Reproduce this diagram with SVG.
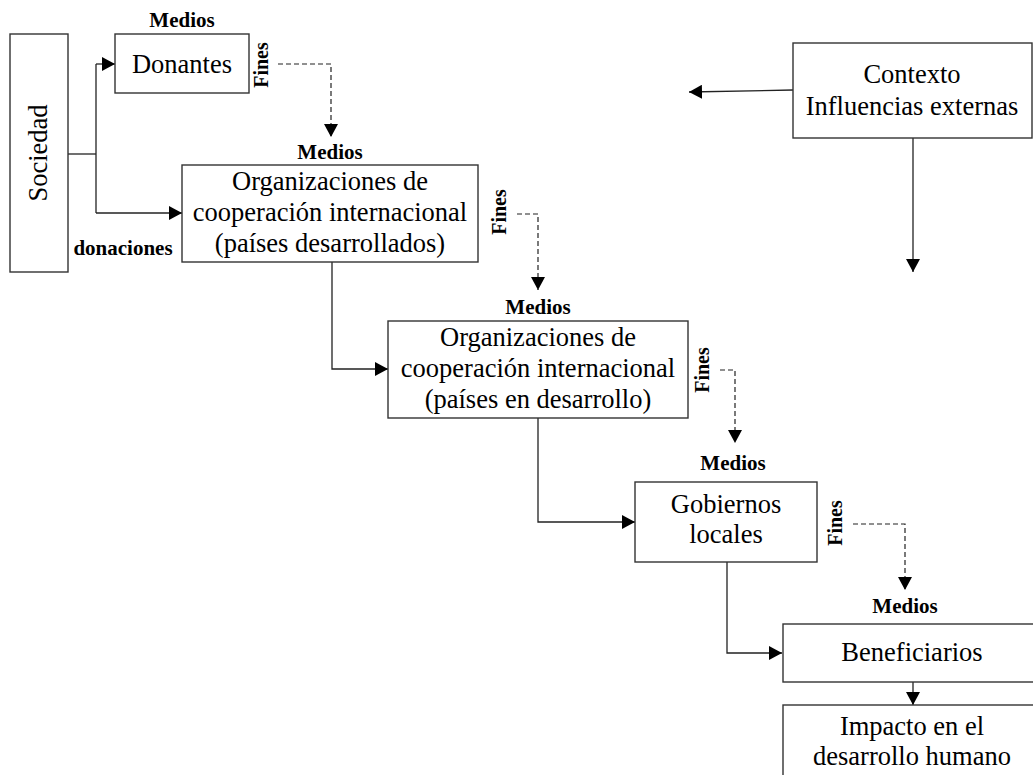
<svg xmlns="http://www.w3.org/2000/svg" width="1033" height="775" viewBox="0 0 1033 775">
  <defs>
    <marker id="arrow" markerUnits="userSpaceOnUse" markerWidth="14" markerHeight="14" refX="13" refY="7" orient="auto">
      <path d="M0,0 L13,7 L0,14 z" fill="#000"/>
    </marker>
    <style>
      text { font-family: 'Liberation Serif', 'Times New Roman', 'DejaVu Serif', serif; fill: #000; text-anchor: middle; }
      .box { fill: #fff; stroke: #333; stroke-width: 1.4; }
      .t { font-size: 26.5px; font-weight: normal; }
      .b { font-size: 21px; font-weight: bold; }
      .f { font-size: 20px; font-weight: bold; }
      .line { fill: none; stroke: #222; stroke-width: 1.3; }
      .dash { fill: none; stroke: #222; stroke-width: 1.2; stroke-dasharray: 5 3; }
    </style>
  </defs>
  <rect width="1033" height="775" fill="#fff"/>

  <!-- connectors -->
  <g id="connectors">
    <path class="line" d="M68,154 H96"/>
    <path class="line" d="M96,64 V213"/>
    <path class="line" d="M96,64 H115" marker-end="url(#arrow)"/>
    <path class="line" d="M96,213 H182" marker-end="url(#arrow)"/>
    <path class="dash" d="M278,64 H331 V137" marker-end="url(#arrow)"/>
    <path class="line" d="M332,262 V369 H388" marker-end="url(#arrow)"/>
    <path class="dash" d="M517,214 H538 V290" marker-end="url(#arrow)"/>
    <path class="line" d="M538,418 V522 H635" marker-end="url(#arrow)"/>
    <path class="dash" d="M720,370 H735 V443" marker-end="url(#arrow)"/>
    <path class="line" d="M727,562 V653 H782" marker-end="url(#arrow)"/>
    <path class="dash" d="M853,524 H905 V590" marker-end="url(#arrow)"/>
    <path class="line" d="M913,682 V705" marker-end="url(#arrow)"/>
    <path class="line" d="M793,90 L689,92" marker-end="url(#arrow)"/>
    <path class="line" d="M913,138 V272" marker-end="url(#arrow)"/>
  </g>

  <!-- Sociedad -->
  <g id="sociedad">
    <rect class="box" x="10" y="34" width="58" height="238"/>
    <text class="t" transform="translate(47,153) rotate(-90)">Sociedad</text>
    <text class="b" x="123" y="255">donaciones</text>
  </g>

  <!-- Donantes -->
  <g id="donantes">
    <text class="b" x="182" y="27">Medios</text>
    <rect class="box" x="115" y="34" width="134" height="59"/>
    <text class="t" x="182" y="73">Donantes</text>
    <text class="f" transform="translate(268,65) rotate(-90)">Fines</text>
  </g>

  <!-- Organizaciones (países desarrollados) -->
  <g id="org-desarrollados">
    <text class="b" x="330" y="159">Medios</text>
    <rect class="box" x="182" y="165" width="296" height="97"/>
    <text class="t" x="330" y="190">Organizaciones de</text>
    <text class="t" x="330" y="221">cooperación internacional</text>
    <text class="t" x="330" y="252">(países desarrollados)</text>
    <text class="f" transform="translate(506,212) rotate(-90)">Fines</text>
  </g>

  <!-- Organizaciones (países en desarrollo) -->
  <g id="org-en-desarrollo">
    <text class="b" x="538" y="314">Medios</text>
    <rect class="box" x="388" y="321" width="300" height="97"/>
    <text class="t" x="538" y="346">Organizaciones de</text>
    <text class="t" x="538" y="377">cooperación internacional</text>
    <text class="t" x="538" y="408">(países en desarrollo)</text>
    <text class="f" transform="translate(709,370) rotate(-90)">Fines</text>
  </g>

  <!-- Gobiernos locales -->
  <g id="gobiernos">
    <text class="b" x="733" y="470">Medios</text>
    <rect class="box" x="635" y="482" width="182" height="80"/>
    <text class="t" x="726" y="513">Gobiernos</text>
    <text class="t" x="726" y="543">locales</text>
    <text class="f" transform="translate(842,523) rotate(-90)">Fines</text>
  </g>

  <!-- Beneficiarios -->
  <g id="beneficiarios">
    <text class="b" x="905" y="613">Medios</text>
    <rect class="box" x="783" y="624" width="262" height="58"/>
    <text class="t" x="912" y="661">Beneficiarios</text>
  </g>

  <!-- Impacto -->
  <g id="impacto">
    <rect class="box" x="783" y="705" width="262" height="90"/>
    <text class="t" x="912" y="735">Impacto en el</text>
    <text class="t" x="912" y="765">desarrollo humano</text>
  </g>

  <!-- Contexto -->
  <g id="contexto">
    <rect class="box" x="793" y="43" width="239" height="95"/>
    <text class="t" x="912" y="83">Contexto</text>
    <text class="t" x="912" y="115">Influencias externas</text>
  </g>
</svg>
